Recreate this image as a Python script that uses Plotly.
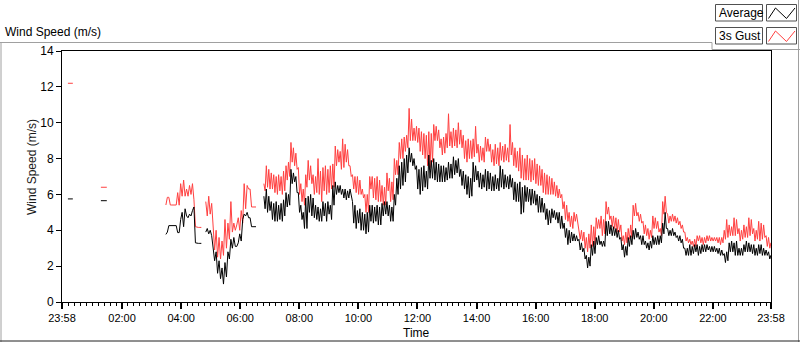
import plotly.graph_objects as go

# ---------------- data (minutes after 23:58, values in m/s) ----------------
TICK_VALS = [0, 122, 242, 362, 482, 602, 722, 842, 962, 1082, 1202, 1322, 1440]
TICK_TEXT = ["23:58", "02:00", "04:00", "06:00", "08:00", "10:00", "12:00",
             "14:00", "16:00", "18:00", "20:00", "22:00", "23:58"]
Y_TICKS = [0, 2, 4, 6, 8, 10, 12, 14]

SEG_A_TIME = [12, 22]
SEG_A_AVG = [5.75, 5.75]
SEG_A_GUST = [12.2, 12.2]

SEG_B_TIME = [79, 91]
SEG_B_AVG = [5.65, 5.65]
SEG_B_GUST = [6.4, 6.4]

SEG_C_TIME = list(range(211, 284, 3))
SEG_C_AVG = [3.77, 3.9, 4.26, 4.26, 4.26, 4.26, 4.26, 4.26, 3.87, 3.87,
             4.6, 5.0, 4.2, 5.2, 4.8, 4.7, 4.9, 4.8, 5.1, 5.3,
             3.3, 3.27, 3.27, 3.27, 3.27]
SEG_C_GUST = [5.41, 5.84, 5.84, 5.41, 5.41, 5.41, 5.41, 5.41, 6.1, 5.4,
              6.6, 5.9, 6.8, 5.9, 6.3, 5.9, 6.5, 6.0, 6.6, 5.7,
              4.2, 4.16, 4.16, 4.16, 4.16]

SEG_D_TIME = list(range(292, 395, 3))
SEG_D_AVG = [3.9, 4.1, 3.8, 4.0, 3.7, 3.0, 2.3, 2.8, 1.6, 2.3,
             1.3, 1.9, 1.0, 2.2, 1.4, 2.8, 2.4, 3.5, 3.0, 3.6,
             3.1, 3.1, 3.3, 3.8, 3.4, 4.6, 4.9, 4.8, 5.0, 4.7,
             4.7, 4.2, 4.2, 4.2, 4.2]
SEG_D_GUST = [5.6, 4.8, 5.9, 4.9, 5.5, 3.9, 2.9, 4.0, 2.5, 3.6,
              2.4, 3.4, 2.6, 4.6, 3.0, 4.4, 3.5, 5.6, 3.9, 4.4,
              4.0, 4.3, 4.7, 4.0, 5.1, 4.4, 6.6, 5.2, 6.5, 6.3,
              6.3, 5.3, 5.3, 5.3, 5.3]

# 06:50 -> 23:58 : per 5-minute slot, the high and the low reading
SEG_E_SLOTS = list(range(410, 1441, 5))
SEG_E_AVG_HI = [
    5.9, 6.3, 5.9, 5.6, 5.5, 5.6, 5.4, 5.5, 5.7, 6.1, 6.0, 7.4, 7.2, 7.0, 6.1, 5.4, 5.0,
    5.8, 5.9, 6.0, 5.8, 5.4, 5.3, 5.2, 5.6, 5.5, 5.6, 5.4, 6.5, 6.7, 6.5, 6.5, 6.3, 6.3,
    6.2, 6.3, 5.6, 5.4, 5.1, 5.2, 5.0, 4.9, 5.0, 5.4, 5.4, 5.3, 5.4, 5.3, 5.5, 5.6, 5.6,
    5.4, 5.3, 6.0, 6.9, 7.6, 7.8, 8.0, 8.2, 8.6, 8.3, 8.0, 7.6, 7.4, 7.5, 7.6, 7.3, 8.2,
    7.9, 8.0, 7.8, 7.7, 7.6, 7.6, 7.5, 7.8, 7.7, 8.1, 7.9,
    8.0, 7.4, 7.3, 7.1, 7.0, 6.9, 7.8, 7.6, 7.3, 7.2, 7.1, 7.4, 7.3, 7.2, 7.0, 7.1, 6.9,
    7.6, 7.4, 7.1, 7.0, 7.1, 6.9, 6.7, 6.6, 6.7, 6.4, 6.5, 6.4, 6.3, 6.3, 6.2, 6.0, 5.9,
    5.8, 5.5, 5.2, 5.1, 5.2, 5.1, 5.0, 5.0, 4.8, 4.4, 4.1, 4.0, 3.9, 3.8, 3.7, 3.5, 3.3,
    3.0, 2.6, 2.5, 3.2, 3.4, 3.6, 3.7, 3.4, 3.4, 4.5,
    4.5, 4.3, 4.2, 4.1, 4.0, 3.6, 3.2, 3.1, 3.6, 3.7, 4.0, 4.1, 3.9, 3.7, 3.7, 3.4, 3.3,
    3.4, 3.7, 3.6, 3.7, 3.7, 4.4, 5.0, 4.1, 4.0, 4.1, 3.9, 3.7, 3.7, 3.5, 3.0, 3.0, 3.2,
    3.1, 3.2, 3.2, 3.1, 3.2, 3.2, 3.2, 3.1, 3.1, 3.1, 3.0, 3.0, 2.9, 2.7, 2.8, 3.3, 3.4,
    3.3, 3.4, 3.0, 3.0, 3.2, 3.4, 3.3, 3.2, 3.2, 3.0, 3.2, 3.2, 3.0, 2.9, 2.8, 2.6]
SEG_E_AVG_LO = [
    5.2, 5.0, 5.1, 4.6, 4.5, 4.5, 4.6, 4.5, 4.8, 5.3, 5.4, 6.6, 6.7, 6.1, 5.0, 4.6, 4.1,
    4.1, 5.0, 4.8, 4.7, 4.6, 4.5, 4.5, 4.8, 4.5, 4.9, 4.6, 5.4, 6.0, 6.1, 6.0, 5.8, 5.7,
    5.8, 5.9, 4.4, 4.1, 4.4, 4.0, 4.0, 3.8, 3.9, 4.5, 4.4, 4.5, 4.3, 4.3, 4.8, 4.9, 4.8,
    4.5, 4.5, 5.4, 6.0, 6.3, 6.5, 6.7, 7.2, 7.8, 7.6, 7.4, 6.3, 6.0, 6.2, 6.4, 6.3, 6.9,
    6.9, 6.8, 6.7, 6.7, 6.7, 6.7, 6.8, 6.9, 6.9, 7.1, 7.2,
    7.0, 6.5, 6.3, 6.0, 5.8, 5.9, 6.7, 6.8, 6.4, 6.3, 6.4, 6.2, 6.3, 6.2, 6.2, 6.3, 6.2,
    6.4, 6.3, 6.4, 6.3, 6.4, 5.7, 5.6, 5.6, 4.9, 5.0, 5.6, 5.6, 5.4, 5.5, 5.4, 5.0, 5.0,
    5.0, 4.6, 4.3, 4.4, 4.7, 4.6, 4.4, 4.1, 4.1, 3.6, 3.2, 3.3, 3.4, 3.4, 3.4, 2.9, 2.8,
    2.4, 1.9, 2.0, 2.6, 2.7, 3.2, 3.2, 3.1, 3.1, 3.7,
    3.8, 3.7, 3.7, 3.6, 3.5, 2.9, 2.5, 2.6, 3.1, 3.2, 3.5, 3.6, 3.5, 3.2, 3.2, 3.0, 2.9,
    3.0, 3.2, 3.2, 3.2, 3.3, 3.8, 4.1, 3.7, 3.7, 3.7, 3.6, 3.4, 3.3, 3.0, 2.6, 2.6, 2.6,
    2.7, 2.8, 2.6, 2.7, 2.8, 2.8, 2.9, 2.8, 2.8, 2.8, 2.7, 2.6, 2.6, 2.2, 2.3, 2.8, 2.8,
    2.6, 2.6, 2.6, 2.6, 2.8, 2.8, 2.8, 2.7, 2.6, 2.6, 2.7, 2.6, 2.6, 2.6, 2.4, 2.4]
SEG_E_GUST_HI = [
    6.6, 7.6, 7.4, 7.2, 7.1, 7.0, 7.1, 7.0, 7.3, 7.6, 7.8, 8.9, 8.6, 8.3, 7.5, 6.6, 6.3,
    7.1, 7.9, 7.6, 7.1, 7.0, 8.0, 7.3, 7.5, 7.6, 7.4, 7.6, 7.7, 8.7, 8.5, 8.4, 9.1, 8.8,
    8.5, 7.6, 7.1, 7.0, 7.0, 6.8, 6.3, 6.0, 6.0, 7.0, 7.0, 6.9, 7.0, 6.8, 6.5, 6.4, 7.2,
    6.9, 6.7, 8.0, 7.9, 8.9, 9.1, 9.2, 9.3, 10.8, 10.2, 9.7, 9.8, 9.7, 9.5, 9.4, 9.3, 9.5,
    9.4, 9.9, 9.8, 9.6, 9.1, 9.2, 9.4, 10.5, 9.5, 9.7, 9.6,
    10.0, 9.6, 9.3, 9.0, 9.1, 9.0, 9.1, 9.8, 8.8, 8.7, 8.6, 9.2, 9.1, 8.8, 8.5, 8.8, 8.6,
    8.9, 8.7, 8.8, 8.6, 9.9, 8.9, 8.6, 8.4, 8.6, 8.2, 8.0, 8.2, 8.0, 7.9, 8.0, 7.7, 7.6,
    7.4, 7.2, 7.1, 7.0, 6.9, 6.7, 6.5, 6.3, 6.0, 5.6, 5.4, 5.0, 4.8, 5.0, 4.9, 4.1, 4.0,
    3.9, 3.6, 3.8, 4.3, 4.2, 4.7, 4.6, 4.8, 4.6, 5.6,
    5.3, 4.8, 4.8, 4.7, 4.6, 4.3, 3.7, 3.9, 4.1, 4.3, 5.4, 5.5, 5.0, 4.9, 4.5, 4.3, 4.1,
    4.0, 4.8, 4.7, 4.5, 4.1, 5.6, 5.9, 4.9, 4.8, 4.9, 4.8, 4.7, 4.5, 4.3, 3.9, 3.6, 3.5,
    3.4, 3.5, 3.7, 3.7, 3.6, 3.6, 3.7, 3.7, 3.6, 3.6, 3.6, 3.6, 3.6, 4.0, 4.6, 4.3, 4.2,
    4.7, 4.6, 4.1, 4.0, 4.3, 4.2, 4.7, 4.6, 4.1, 4.0, 4.5, 4.4, 4.3, 3.7, 3.6, 3.3]
SEG_E_GUST_LO = [
    6.2, 6.4, 6.3, 6.3, 6.1, 6.0, 6.2, 6.0, 6.2, 6.8, 7.0, 7.8, 7.6, 7.4, 6.0, 5.6, 5.4,
    6.4, 6.8, 6.6, 6.0, 6.1, 6.0, 5.6, 6.2, 6.0, 6.1, 6.3, 6.4, 7.6, 7.8, 7.4, 7.5, 7.8,
    7.6, 7.0, 6.3, 6.1, 6.0, 6.0, 5.8, 5.0, 5.0, 6.3, 5.8, 5.7, 5.6, 5.6, 5.4, 5.4, 6.2,
    5.6, 5.7, 7.1, 7.1, 8.0, 8.0, 8.4, 8.6, 9.0, 9.0, 9.0, 8.9, 8.4, 8.2, 8.0, 7.6, 7.5,
    7.8, 9.0, 9.0, 8.6, 8.2, 8.3, 8.6, 8.7, 8.6, 8.7, 8.6,
    8.8, 8.6, 8.0, 7.8, 8.0, 8.0, 8.1, 8.3, 7.8, 7.9, 7.8, 8.4, 8.4, 7.8, 7.6, 7.7, 7.6,
    7.9, 7.8, 7.9, 7.8, 8.2, 7.6, 7.5, 7.3, 6.9, 6.8, 6.8, 6.8, 6.7, 6.8, 6.6, 6.5, 6.5,
    6.1, 6.0, 6.0, 6.0, 6.0, 5.9, 5.8, 5.8, 5.2, 4.6, 4.5, 4.2, 4.1, 4.5, 4.5, 3.5, 3.4,
    3.0, 2.8, 3.0, 3.1, 3.2, 4.1, 4.1, 3.7, 3.8, 4.9,
    4.6, 4.2, 4.1, 3.9, 3.9, 3.4, 3.2, 3.3, 3.5, 3.6, 4.8, 4.8, 4.5, 4.4, 3.8, 3.7, 3.5,
    3.6, 4.1, 4.1, 3.9, 3.7, 4.9, 5.0, 4.4, 4.5, 4.5, 4.4, 4.3, 4.1, 3.9, 3.4, 3.3, 3.2,
    3.1, 3.1, 3.4, 3.3, 3.2, 3.3, 3.4, 3.4, 3.4, 3.4, 3.3, 3.2, 3.3, 3.5, 3.6, 3.7, 3.7,
    3.7, 3.8, 3.4, 3.5, 3.6, 3.6, 3.7, 3.8, 3.4, 3.5, 3.4, 3.5, 3.6, 3.1, 3.0, 3.0]


def interleave(slots, hi, lo):
    t, v = [], []
    for s, h, l in zip(slots, hi, lo):
        t += [s, s + 2.5]
        v += [h, l]
    return t, v


SEG_E_TIME, SEG_E_AVG = interleave(SEG_E_SLOTS, SEG_E_AVG_HI, SEG_E_AVG_LO)
_, SEG_E_GUST = interleave(SEG_E_SLOTS, SEG_E_GUST_HI, SEG_E_GUST_LO)


def join(segments):
    xs, ys = [], []
    for t, v in segments:
        n = min(len(t), len(v))
        if xs:
            xs.append(None)
            ys.append(None)
        xs.extend(t[:n])
        ys.extend(v[:n])
    return xs, ys


avg_x, avg_y = join([(SEG_A_TIME, SEG_A_AVG), (SEG_B_TIME, SEG_B_AVG),
                     (SEG_C_TIME, SEG_C_AVG), (SEG_D_TIME, SEG_D_AVG),
                     (SEG_E_TIME, SEG_E_AVG)])
gst_x, gst_y = join([(SEG_A_TIME, SEG_A_GUST), (SEG_B_TIME, SEG_B_GUST),
                     (SEG_C_TIME, SEG_C_GUST), (SEG_D_TIME, SEG_D_GUST),
                     (SEG_E_TIME, SEG_E_GUST)])

RED = "#ff4040"
FONT = "Liberation Sans, Arial, sans-serif"

fig = go.Figure()
fig.add_trace(go.Scatter(x=gst_x, y=gst_y, mode="lines", name="3s Gust",
                         line=dict(color=RED, width=1),
                         connectgaps=False, showlegend=False))
fig.add_trace(go.Scatter(x=avg_x, y=avg_y, mode="lines", name="Average",
                         line=dict(color="#000000", width=1),
                         connectgaps=False, showlegend=False))

# plot area in pixels: x 62..771, y 51..302
L, R, T, B = 62, 771, 51, 302


def px(x):
    return (x - L) / (R - L)


def py(y):
    return (B - y) / (B - T)


shapes = []
# outer frame
shapes.append(dict(type="line", xref="paper", yref="paper", x0=px(0), x1=px(712), y0=py(42.5), y1=py(42.5),
                   line=dict(color="#a0a0a0", width=1)))
shapes.append(dict(type="line", xref="paper", yref="paper", x0=px(712), x1=px(712), y0=py(42.5), y1=py(49.5),
                   line=dict(color="#a0a0a0", width=1)))
shapes.append(dict(type="line", xref="paper", yref="paper", x0=px(712), x1=px(800), y0=py(49.5), y1=py(49.5),
                   line=dict(color="#a0a0a0", width=1)))
shapes.append(dict(type="line", xref="paper", yref="paper", x0=px(1), x1=px(1), y0=py(42.5), y1=py(342),
                   line=dict(color="#a0a0a0", width=1)))
shapes.append(dict(type="line", xref="paper", yref="paper", x0=px(798.5), x1=px(798.5), y0=py(0), y1=py(342),
                   line=dict(color="#a0a0a0", width=1)))
shapes.append(dict(type="line", xref="paper", yref="paper", x0=px(0), x1=px(800), y0=py(341), y1=py(341),
                   line=dict(color="#202020", width=1)))
# legend boxes
for (y0, y1) in [(4.5, 21), (27.5, 44)]:
    shapes.append(dict(type="rect", xref="paper", yref="paper", x0=px(715.5), x1=px(762.5), y0=py(y1), y1=py(y0),
                       line=dict(color="#505050", width=1), fillcolor="white"))
    shapes.append(dict(type="rect", xref="paper", yref="paper", x0=px(766.5), x1=px(796.5), y0=py(y1), y1=py(y0),
                       line=dict(color="#505050", width=1), fillcolor="white"))


def zig(yb, yt):
    pts = [(768.5, yb), (775.5, yt), (786.5, yb), (795, yt)]
    d = "M " + " L ".join(f"{px(a):.5f},{py(b):.5f}" for a, b in pts)
    return d


shapes.append(dict(type="path", xref="paper", yref="paper", path=zig(18.5, 8), line=dict(color="black", width=1)))
shapes.append(dict(type="path", xref="paper", yref="paper", path=zig(41.5, 31), line=dict(color=RED, width=1)))

annotations = [
    dict(text="Wind Speed (m/s)", xref="paper", yref="paper", x=px(3), y=py(32), xanchor="left", yanchor="middle",
         showarrow=False, font=dict(family=FONT, size=12, color="black")),
    dict(text="Average", xref="paper", yref="paper", x=px(717), y=py(13), xanchor="left", yanchor="middle",
         showarrow=False, font=dict(family=FONT, size=12, color="black")),
    dict(text="3s Gust", xref="paper", yref="paper", x=px(717), y=py(36), xanchor="left", yanchor="middle",
         showarrow=False, font=dict(family=FONT, size=12, color="black")),
    dict(text="Wind Speed (m/s)", xref="paper", yref="paper", x=px(32), y=py(167), xanchor="center",
         yanchor="middle", textangle=-90, showarrow=False, font=dict(family=FONT, size=12, color="#1a1a1a")),
    dict(text="Time", xref="paper", yref="paper", x=0.5, y=py(333), xanchor="center", yanchor="middle",
         showarrow=False, font=dict(family=FONT, size=12, color="black")),
]

fig.update_layout(
    width=800, height=342,
    margin=dict(l=L, r=800 - R, t=T, b=342 - B, pad=0),
    paper_bgcolor="white", plot_bgcolor="white",
    font=dict(family=FONT, size=11, color="black"),
    shapes=shapes, annotations=annotations,
    showlegend=False,
)
fig.update_xaxes(range=[0, 1440], tickmode="array", tickvals=TICK_VALS, ticktext=TICK_TEXT,
                 ticks="outside", ticklen=6, tickwidth=2, tickcolor="black",
                 minor=dict(ticks="outside", ticklen=3, tickwidth=1, tickcolor="black",
                            tickmode="linear", tick0=2, dtick=12),
                 showgrid=False, zeroline=False, showline=True, mirror=True, linecolor="black", linewidth=1,
                 tickfont=dict(family=FONT, size=11, color="black"))
fig.update_yaxes(range=[0, 14], tickmode="array", tickvals=Y_TICKS,
                 ticks="outside", ticklen=5, tickwidth=1, tickcolor="black",
                 showgrid=False, zeroline=False, showline=True, mirror=True, linecolor="black", linewidth=1,
                 tickfont=dict(family=FONT, size=12, color="black"))

fig.write_html("out.html", config={"displayModeBar": False},
               post_script="document.body.style.margin='0';document.body.style.overflow='hidden';")
